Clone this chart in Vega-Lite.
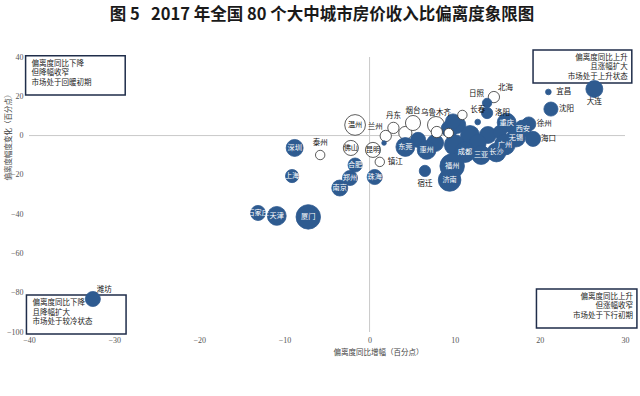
{
  "$schema": "https://vega.github.io/schema/vega-lite/v6.json",
  "width": 596,
  "height": 275,
  "autosize": {"type": "none"},
  "padding": {"left": 29, "top": 57, "right": 15, "bottom": 64},
  "background": "white",
  "title": {
    "text": "图 5\u00a0\u00a0\u00a02017 年全国 80 个大中城市房价收入比偏离度象限图",
    "font": "Noto Sans CJK SC",
    "fontSize": 16.5,
    "fontWeight": "bold",
    "color": "#1a1a1a",
    "anchor": "middle",
    "dx": -5,
    "offset": 26
  },
  "config": {
    "view": {"stroke": null},
    "text": {"font": "Noto Sans CJK SC", "lineBreak": "\n"}
  },
  "datasets": {
    "cities": [
      {"city": "温州", "x": -1.7, "y": 5.4, "v": 121, "t": "空心", "lab": "in"},
      {"city": "佛山", "x": -2.2, "y": -6.3, "v": 64, "t": "空心", "lab": "in"},
      {"city": "昆明", "x": 0.4, "y": -7.3, "v": 64, "t": "空心", "lab": "in"},
      {"city": "镇江", "x": 1.2, "y": -13.4, "v": 25, "t": "空心", "lab": "r"},
      {"city": "兰州", "x": 1.9, "y": -0.2, "v": 36, "t": "空心", "lab": "tl"},
      {"city": "丹东", "x": 2.8, "y": 3.9, "v": 36, "t": "空心", "lab": "t"},
      {"city": "", "x": 4.2, "y": 1.3, "v": 49, "t": "空心", "lab": "none"},
      {"city": "烟台", "x": 5.1, "y": 6.4, "v": 64, "t": "空心", "lab": "t"},
      {"city": "乌鲁木齐", "x": 7.8, "y": 5.4, "v": 81, "t": "空心", "lab": "t"},
      {"city": "北海", "x": 14.6, "y": 19.6, "v": 36, "t": "空心", "lab": "tr"},
      {"city": "泰州", "x": -5.8, "y": -9.9, "v": 25, "t": "空心", "lab": "t"},
      {"city": "大连", "x": 26.4, "y": 23.7, "v": 81, "t": "实心", "lab": "b"},
      {"city": "宜昌", "x": 21.0, "y": 22.2, "v": 9, "t": "实心", "lab": "r"},
      {"city": "沈阳", "x": 21.3, "y": 13.5, "v": 56, "t": "实心", "lab": "r"},
      {"city": "徐州", "x": 18.7, "y": 5.9, "v": 56, "t": "实心", "lab": "r"},
      {"city": "海口", "x": 19.2, "y": -1.7, "v": 64, "t": "实心", "lab": "r"},
      {"city": "", "x": 9.4, "y": 3.4, "v": 81, "t": "实心", "lab": "none"},
      {"city": "", "x": 10.3, "y": 5.4, "v": 81, "t": "实心", "lab": "none"},
      {"city": "", "x": 9.8, "y": 7.2, "v": 64, "t": "实心", "lab": "none"},
      {"city": "", "x": 11.8, "y": 0.3, "v": 100, "t": "实心", "lab": "none"},
      {"city": "", "x": 13.9, "y": 0.3, "v": 81, "t": "实心", "lab": "none"},
      {"city": "", "x": 10.0, "y": -4.8, "v": 121, "t": "实心", "lab": "none"},
      {"city": "", "x": 7.7, "y": -3.8, "v": 81, "t": "实心", "lab": "none"},
      {"city": "", "x": 5.7, "y": -2.2, "v": 64, "t": "实心", "lab": "none"},
      {"city": "", "x": 15.3, "y": 1.8, "v": 49, "t": "实心", "lab": "none"},
      {"city": "", "x": 12.7, "y": -3.8, "v": 81, "t": "实心", "lab": "none"},
      {"city": "", "x": 1.7, "y": -3.8, "v": 6, "t": "实心", "lab": "none"},
      {"city": "西安", "x": 18.0, "y": 3.6, "v": 81, "t": "实心", "lab": "in"},
      {"city": "重庆", "x": 16.1, "y": 6.6, "v": 100, "t": "实心", "lab": "in"},
      {"city": "无锡", "x": 17.2, "y": -1.0, "v": 100, "t": "实心", "lab": "in"},
      {"city": "广州", "x": 15.9, "y": -4.6, "v": 121, "t": "实心", "lab": "in"},
      {"city": "长沙", "x": 14.9, "y": -8.6, "v": 100, "t": "实心", "lab": "in"},
      {"city": "三亚", "x": 13.1, "y": -9.9, "v": 100, "t": "实心", "lab": "in"},
      {"city": "成都", "x": 11.2, "y": -8.4, "v": 121, "t": "实心", "lab": "in"},
      {"city": "济南", "x": 9.4, "y": -22.6, "v": 144, "t": "实心", "lab": "in"},
      {"city": "福州", "x": 9.7, "y": -15.5, "v": 169, "t": "实心", "lab": "in"},
      {"city": "惠州", "x": 6.7, "y": -7.3, "v": 100, "t": "实心", "lab": "in"},
      {"city": "东莞", "x": 4.2, "y": -5.8, "v": 100, "t": "实心", "lab": "in"},
      {"city": "宿迁", "x": 6.5, "y": -18.0, "v": 36, "t": "实心", "lab": "b"},
      {"city": "长春", "x": 12.7, "y": 6.9, "v": 9, "t": "实心", "lab": "t"},
      {"city": "日照", "x": 13.8, "y": 16.6, "v": 25, "t": "实心", "lab": "tl"},
      {"city": "洛阳", "x": 13.8, "y": 11.5, "v": 36, "t": "实心", "lab": "r"},
      {"city": "", "x": 10.9, "y": 10.5, "v": 25, "t": "空心", "lab": "none"},
      {"city": "", "x": 7.9, "y": 1.8, "v": 36, "t": "空心", "lab": "none"},
      {"city": "", "x": 9.3, "y": 1.3, "v": 25, "t": "空心", "lab": "none"},
      {"city": "深圳", "x": -8.8, "y": -6.3, "v": 81, "t": "实心", "lab": "in"},
      {"city": "上海", "x": -9.1, "y": -20.6, "v": 49, "t": "实心", "lab": "in"},
      {"city": "合肥", "x": -1.7, "y": -15.0, "v": 56, "t": "实心", "lab": "in"},
      {"city": "郑州", "x": -2.3, "y": -21.6, "v": 64, "t": "实心", "lab": "in"},
      {"city": "南京", "x": -3.5, "y": -26.7, "v": 72, "t": "实心", "lab": "in"},
      {"city": "珠海", "x": 0.6, "y": -21.1, "v": 64, "t": "实心", "lab": "in"},
      {"city": "石家庄", "x": -13.1, "y": -39.4, "v": 64, "t": "实心", "lab": "in"},
      {"city": "天津", "x": -10.9, "y": -40.9, "v": 100, "t": "实心", "lab": "in"},
      {"city": "厦门", "x": -7.2, "y": -41.4, "v": 169, "t": "实心", "lab": "in"},
      {"city": "潍坊", "x": -32.5, "y": -83.2, "v": 64, "t": "实心", "lab": "tr"}
    ],
    "boxes": [
      {"q": "左上", "x1": -40.4, "x2": -28.7, "y1": 40.6, "y2": 20.6, "side": "l", "txt": "偏离度同比下降\n但降幅收窄\n市场处于回暖初期"},
      {"q": "右上", "x1": 19.2, "x2": 30.8, "y1": 43.6, "y2": 26.8, "side": "r", "txt": "偏离度同比上升\n且涨幅扩大\n市场处于上升状态"},
      {"q": "左下", "x1": -40.3, "x2": -28.6, "y1": -81.2, "y2": -101, "side": "l", "txt": "偏离度同比下降\n且降幅扩大\n市场处于较冷状态"},
      {"q": "右下", "x1": 19.6, "x2": 31.4, "y1": -78.1, "y2": -98, "side": "r", "txt": "偏离度同比上升\n但涨幅收窄\n市场处于下行初期"}
    ]
  },
  "encoding": {
    "x": {
      "field": "x",
      "type": "quantitative",
      "scale": {"domain": [-40, 30], "nice": false, "zero": false},
      "axis": {
        "values": [-40, -30, -20, -10, 0, 10, 20, 30],
        "domain": false, "ticks": false, "grid": false,
        "labelFont": "Liberation Serif", "labelFontSize": 8, "labelColor": "#555555",
        "labelPadding": 4, "labelFlush": false,
        "title": "偏离度同比增幅（百分点）",
        "titleFont": "Noto Sans CJK SC", "titleFontSize": 7.5, "titleFontWeight": "normal",
        "titleColor": "#444444", "titleX": 349, "titleY": 16, "titleBaseline": "top", "titleAlign": "center"
      }
    },
    "y": {
      "field": "y",
      "type": "quantitative",
      "scale": {"domain": [-100, 40], "nice": false, "zero": false},
      "axis": {
        "values": [-100, -80, -60, -40, -20, 0, 20, 40],
        "domain": false, "ticks": false, "grid": false,
        "labelFont": "Liberation Serif", "labelFontSize": 8, "labelColor": "#555555",
        "labelPadding": 6,
        "title": "偏离度幅度变化（百分点）",
        "titleFont": "Noto Sans CJK SC", "titleFontSize": 7.5, "titleFontWeight": "normal",
        "titleColor": "#444444", "titleX": -21, "titleY": 78, "titleAngle": -90,
        "titleAlign": "center", "titleBaseline": "middle"
      }
    }
  },
  "layer": [
    {
      "data": {"values": [{"z": 0}]},
      "mark": {"type": "rule", "color": "#C9C9C9", "strokeWidth": 1},
      "encoding": {"x": {"field": "z", "type": "quantitative"}, "y": null}
    },
    {
      "data": {"values": [{"z": 0}]},
      "mark": {"type": "rule", "color": "#C9C9C9", "strokeWidth": 1},
      "encoding": {"y": {"field": "z", "type": "quantitative"}, "x": null}
    },
    {
      "data": {"name": "boxes"},
      "mark": {"type": "rect", "fill": "white", "stroke": "#1F2D4A", "strokeWidth": 1.5},
      "encoding": {
        "x": {"field": "x1", "type": "quantitative"},
        "x2": {"field": "x2"},
        "y": {"field": "y1", "type": "quantitative"},
        "y2": {"field": "y2"}
      }
    },
    {
      "data": {"name": "boxes"},
      "transform": [{"filter": "datum.side === 'l'"}],
      "mark": {"type": "text", "align": "left", "baseline": "top", "dx": 6, "dy": 4, "fontSize": 7.5, "lineHeight": 9.5, "color": "#222222"},
      "encoding": {
        "x": {"field": "x1", "type": "quantitative"},
        "y": {"field": "y1", "type": "quantitative"},
        "text": {"field": "txt"}
      }
    },
    {
      "data": {"name": "boxes"},
      "transform": [{"filter": "datum.side === 'r'"}],
      "mark": {"type": "text", "align": "right", "baseline": "top", "dx": -4, "dy": 4, "fontSize": 7.5, "lineHeight": 9.5, "color": "#222222"},
      "encoding": {
        "x": {"field": "x2", "type": "quantitative"},
        "y": {"field": "y1", "type": "quantitative"},
        "text": {"field": "txt"}
      }
    },
    {
      "data": {"name": "cities"},
      "mark": {"type": "point", "shape": "circle", "filled": true, "opacity": 1, "strokeWidth": 0.8},
      "encoding": {
        "size": {"field": "v", "type": "quantitative", "scale": {"type": "linear", "domain": [0, 169], "range": [0, 600]}, "legend": null},
        "fill": {"field": "t", "type": "nominal", "scale": {"domain": ["实心", "空心"], "range": ["#2E5B90", "#FFFFFF"]}, "legend": null},
        "stroke": {"field": "t", "type": "nominal", "scale": {"domain": ["实心", "空心"], "range": ["#2E5B90", "#333333"]}, "legend": null}
      }
    },
    {
      "data": {"name": "cities"},
      "transform": [{"filter": "datum.lab === 'in'"}],
      "mark": {"type": "text", "align": "center", "baseline": "middle", "fontSize": 7.2},
      "encoding": {
        "text": {"field": "city"},
        "color": {"condition": {"test": "datum.t === '实心'", "value": "white"}, "value": "#111111"}
      }
    },
    {
      "data": {"name": "cities"},
      "transform": [{"filter": "datum.lab === 'r'"}],
      "mark": {"type": "text", "align": "left", "baseline": "middle", "dx": 8, "fontSize": 7.5, "color": "#111111"},
      "encoding": {"text": {"field": "city"}}
    },
    {
      "data": {"name": "cities"},
      "transform": [{"filter": "datum.lab === 'b'"}],
      "mark": {"type": "text", "align": "center", "baseline": "middle", "dy": 13, "fontSize": 7.5, "color": "#111111"},
      "encoding": {"text": {"field": "city"}}
    },
    {
      "data": {"name": "cities"},
      "transform": [{"filter": "datum.lab === 't'"}],
      "mark": {"type": "text", "align": "center", "baseline": "middle", "dy": -12, "fontSize": 7.5, "color": "#111111"},
      "encoding": {"text": {"field": "city"}}
    },
    {
      "data": {"name": "cities"},
      "transform": [{"filter": "datum.lab === 'tr'"}],
      "mark": {"type": "text", "align": "left", "baseline": "middle", "dx": 4, "dy": -9, "fontSize": 7.5, "color": "#111111"},
      "encoding": {"text": {"field": "city"}}
    },
    {
      "data": {"name": "cities"},
      "transform": [{"filter": "datum.lab === 'tl'"}],
      "mark": {"type": "text", "align": "right", "baseline": "middle", "dx": -3, "dy": -9, "fontSize": 7.5, "color": "#111111"},
      "encoding": {"text": {"field": "city"}}
    },
    {
      "data": {"values": [{"src": "数据来源：各地统计局、易居研究院"}]},
      "mark": {"type": "text", "align": "center", "baseline": "middle", "fontSize": 11, "color": "#1a1a1a"},
      "encoding": {
        "x": {"datum": -5.6, "type": "quantitative"},
        "y": {"datum": -127, "type": "quantitative"},
        "text": {"field": "src"}
      }
    }
  ]
}
